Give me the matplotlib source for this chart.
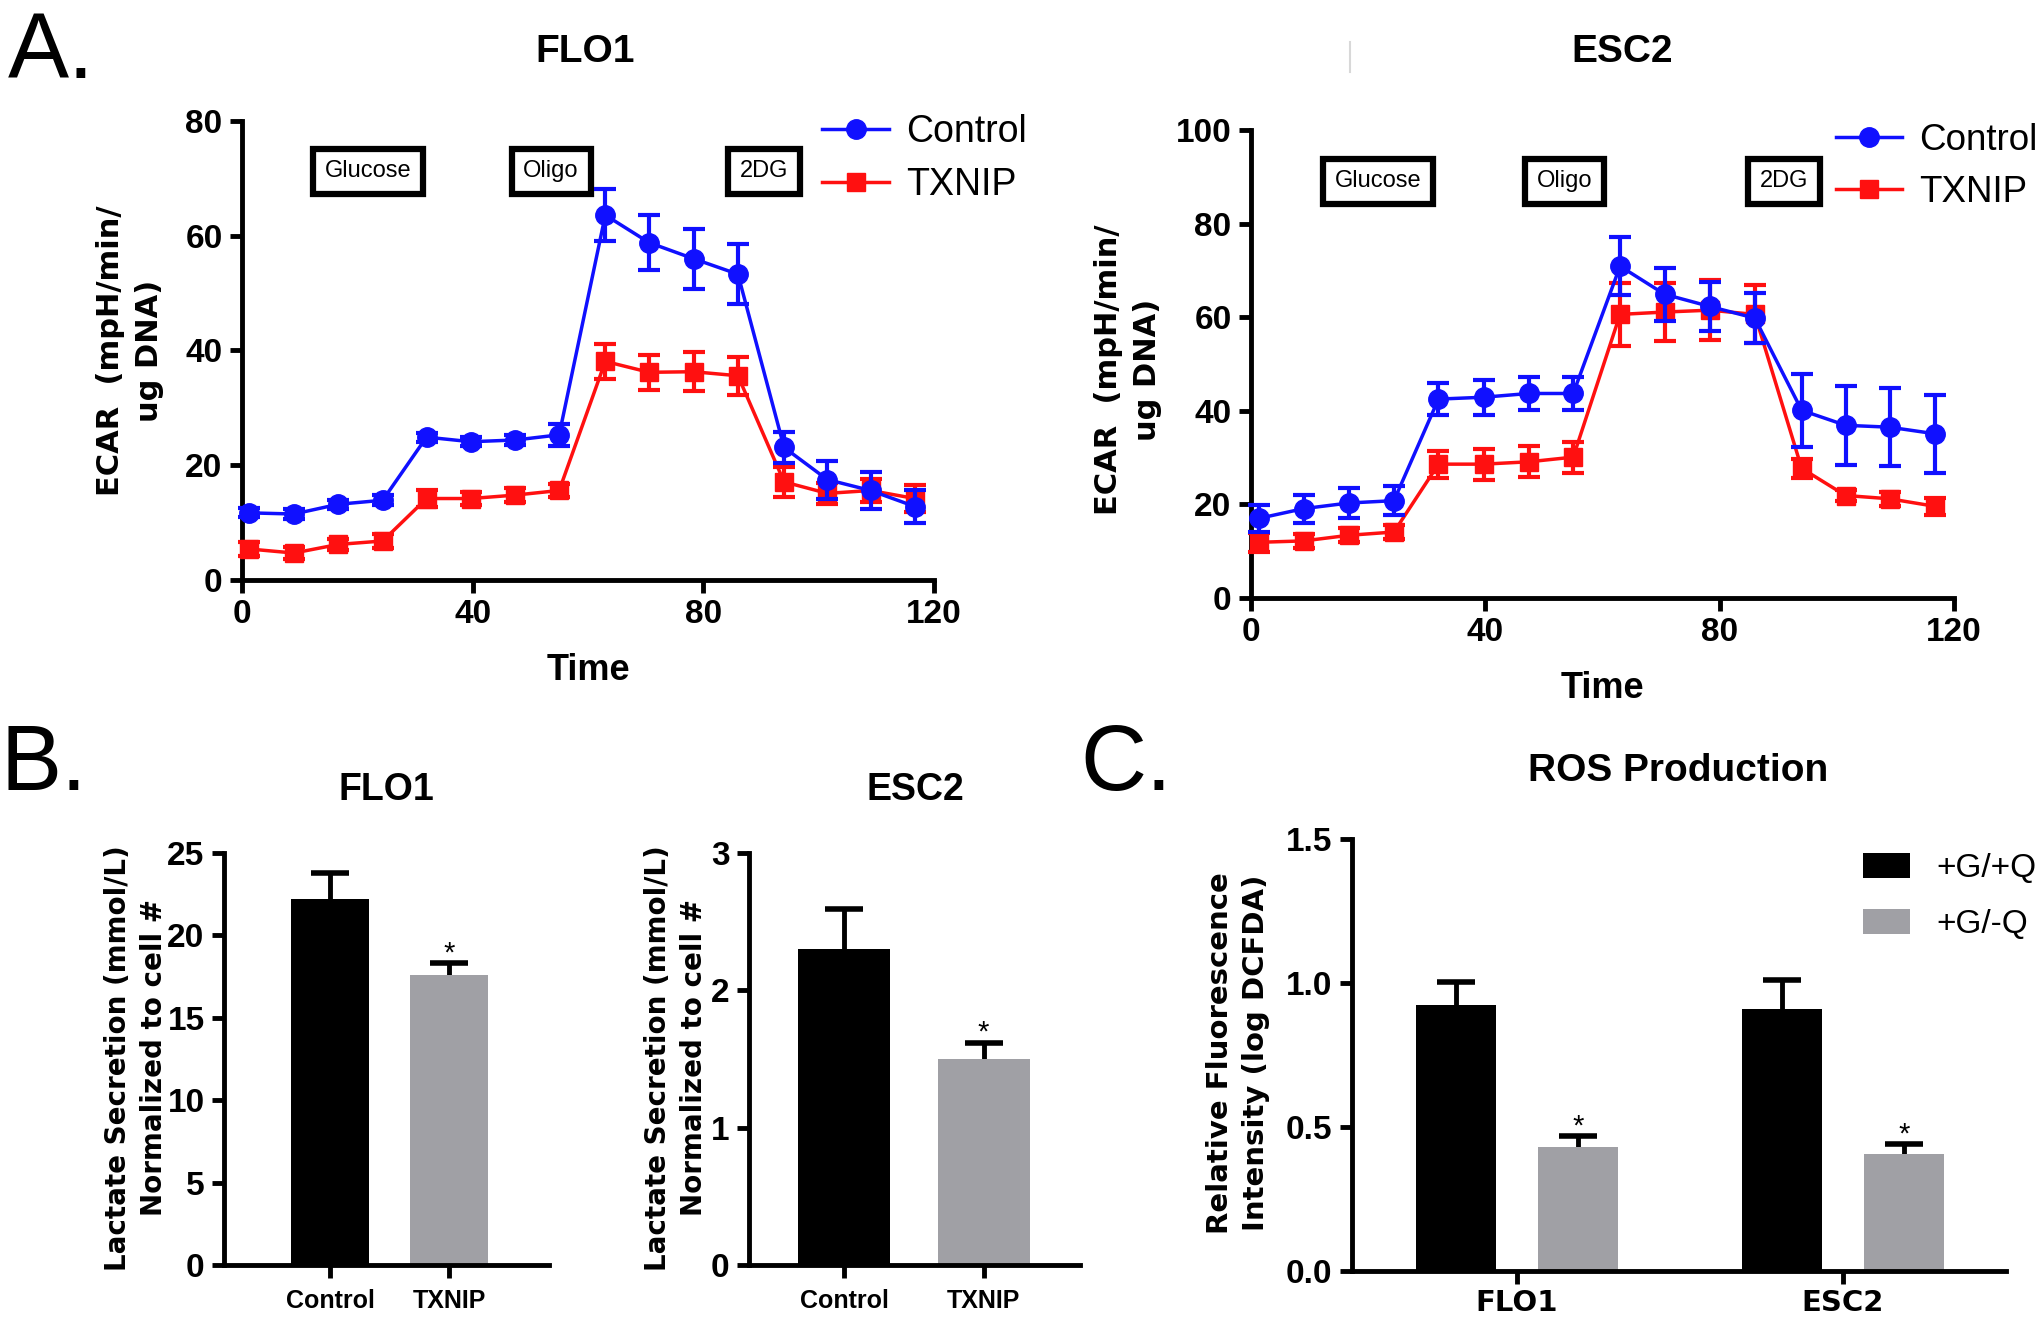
import matplotlib
matplotlib.use("Agg")
import matplotlib.pyplot as plt
from matplotlib import font_manager
from matplotlib.lines import Line2D
import numpy as np

# =========================
# Data
# =========================

time = [1.3, 9.0, 16.7, 24.4, 32.0, 39.7, 47.4, 55.0, 63.0, 70.6, 78.3, 86.0, 94.0, 101.5, 109.0, 116.7]

flo1_ctrl = [11.7, 11.5, 13.2, 13.9, 24.9, 24.1, 24.4, 25.3, 63.6, 58.8, 56.0, 53.3, 23.1, 17.5, 15.6, 12.8]
flo1_ctrl_err = [0.8, 0.8, 0.8, 0.9, 0.8, 0.8, 0.8, 1.9, 4.5, 4.8, 5.2, 5.2, 2.7, 3.3, 3.2, 2.8]
flo1_txnip = [5.4, 4.7, 6.2, 6.8, 14.2, 14.2, 14.8, 15.6, 38.1, 36.2, 36.3, 35.6, 17.1, 15.1, 15.6, 14.2]
flo1_txnip_err = [1.2, 1.0, 1.0, 1.2, 1.5, 1.2, 1.2, 1.2, 3.0, 3.0, 3.4, 3.3, 2.6, 1.8, 2.0, 2.3]

esc2_ctrl = [17.0, 19.1, 20.3, 20.8, 42.5, 42.9, 43.7, 43.7, 70.9, 64.9, 62.3, 59.8, 40.1, 36.9, 36.5, 35.1]
esc2_ctrl_err = [2.8, 3.0, 3.1, 3.1, 3.5, 3.7, 3.5, 3.5, 6.2, 5.7, 5.3, 5.4, 7.8, 8.4, 8.3, 8.3]
esc2_txnip = [11.9, 12.2, 13.4, 14.1, 28.6, 28.6, 29.1, 30.1, 60.6, 61.1, 61.5, 60.6, 27.7, 21.9, 21.2, 19.6]
esc2_txnip_err = [2.0, 1.5, 1.5, 1.5, 2.9, 3.3, 3.3, 3.3, 6.7, 6.2, 6.4, 6.2, 2.1, 1.2, 1.5, 1.8]

injections = ["Glucose", "Oligo", "2DG"]

lactate_groups = ["Control", "TXNIP"]
lactate_flo1 = [22.2, 17.6]
lactate_flo1_err = [1.6, 0.7]
lactate_esc2 = [2.30, 1.50]
lactate_esc2_err = [0.29, 0.12]

ros_lines = ["FLO1", "ESC2"]
ros_gq = [0.924, 0.910]
ros_gq_err = [0.08, 0.10]
ros_gnoq = [0.431, 0.406]
ros_gnoq_err = [0.038, 0.035]

# =========================
# Style
# =========================

names = {f.name for f in font_manager.fontManager.ttflist}
narrow = "Liberation Sans Narrow" if "Liberation Sans Narrow" in names else "Liberation Sans"
plt.rcParams["font.family"] = "Liberation Sans"

BLUE = "#1010ff"
RED = "#ff1010"
GRAY = "#a0a0a5"
W, H = 2040, 1318


def style(ax, labelsize=24):
    for s in ["top", "right"]:
        ax.spines[s].set_visible(False)
    for s in ["left", "bottom"]:
        ax.spines[s].set_linewidth(3.5)
    ax.tick_params(width=3.5, length=9, labelsize=labelsize, pad=5)
    for lab in ax.get_xticklabels() + ax.get_yticklabels():
        lab.set_fontfamily(narrow)
        lab.set_fontweight("bold")


def fig_ax(left, top, right, bottom):
    return fig.add_axes([left / W, 1 - bottom / H, (right - left) / W, (bottom - top) / H])


def star(ax, x, y):
    ax.annotate("*", (x, y), xytext=(0, -3), textcoords="offset points",
                ha="center", va="bottom", fontsize=21)


fig = plt.figure(figsize=(20.4, 13.18), dpi=100)

# =========================
# Panel A - ECAR
# =========================

panels_a = [
    (fig_ax(242, 121, 934, 580), flo1_ctrl, flo1_ctrl_err, flo1_txnip, flo1_txnip_err,
     80, [0, 20, 40, 60, 80], [21.8, 53.6, 90.6], 71.2, (822, 114), 27),
    (fig_ax(1251, 130, 1954, 598), esc2_ctrl, esc2_ctrl_err, esc2_txnip, esc2_txnip_err,
     100, [0, 20, 40, 60, 80, 100], [21.7, 53.5, 91.0], 89.0, (1836, 123), 26.5),
]

for ax, c, ce, t, te, ymax, yt, box_x, box_y, leg, legsize in panels_a:
    ax.errorbar(time, c, yerr=ce, color=BLUE, marker="o", ms=14, lw=2.5,
                elinewidth=3, capsize=8, capthick=3, clip_on=False, zorder=4)
    ax.errorbar(time, t, yerr=te, color=RED, marker="s", ms=13, lw=2.5,
                elinewidth=3, capsize=8, capthick=3, clip_on=False, zorder=3)
    ax.set_xlim(0, 120)
    ax.set_ylim(0, ymax)
    ax.set_xticks([0, 40, 80, 120])
    ax.set_yticks(yt)
    style(ax, 24)
    ax.set_xlabel("Time", fontsize=26, fontweight="bold", fontfamily=narrow, labelpad=16)
    for name, bx in zip(injections, box_x):
        ax.text(bx, box_y, name, fontsize=17, fontfamily=narrow, ha="center", va="center",
                bbox=dict(boxstyle="square,pad=0.5", fc="white", ec="black", lw=4.5))
    h1 = Line2D([], [], color=BLUE, marker="o", ms=14, lw=2.5)
    h2 = Line2D([], [], color=RED, marker="s", ms=13, lw=2.5)
    ax.legend([h1, h2], ["Control", "TXNIP"], loc="upper left", frameon=False,
              bbox_to_anchor=(leg[0] / W, 1 - leg[1] / H), bbox_transform=fig.transFigure,
              fontsize=legsize, handlelength=1.8, handletextpad=0.45, labelspacing=0.45,
              borderaxespad=0, borderpad=0)

fig.text(130 / W, 1 - 351 / H, "ECAR  (mpH/min/\nug DNA)", rotation=90, ha="center",
         va="center", fontsize=22, fontweight="bold", family="DejaVu Sans", linespacing=1.4)
fig.text(1128 / W, 1 - 370 / H, "ECAR  (mpH/min/\nug DNA)", rotation=90, ha="center",
         va="center", fontsize=22, fontweight="bold", family="DejaVu Sans", linespacing=1.4)

fig.text(585 / W, 1 - 52 / H, "FLO1", ha="center", va="center", fontsize=28, fontweight="bold")
fig.text(1622 / W, 1 - 52 / H, "ESC2", ha="center", va="center", fontsize=28, fontweight="bold")
fig.add_artist(Line2D([1350 / W, 1350 / W], [1 - 42 / H, 1 - 72 / H], color="#d8d8d8", lw=1.5))

# =========================
# Panel B - Lactate
# =========================

panels_b = [
    (fig_ax(224, 853, 549, 1265), lactate_flo1, lactate_flo1_err, 25, [0, 5, 10, 15, 20, 25],
     (-0.89, 1.84), 0.65),
    (fig_ax(749, 853, 1080, 1265), lactate_esc2, lactate_esc2_err, 3, [0, 1, 2, 3],
     (-0.68, 1.69), 0.66),
]

for ax, vals, errs, ymax, yt, xl, bw in panels_b:
    x = np.arange(len(lactate_groups))
    ax.bar(x, vals, width=bw, color=["black", GRAY], zorder=2)
    ax.errorbar(x, vals, yerr=errs, fmt="none", ecolor="black",
                elinewidth=3.5, capsize=14, capthick=4, zorder=1)
    star(ax, x[1], vals[1] + errs[1])
    ax.set_xlim(*xl)
    ax.set_ylim(0, ymax)
    ax.set_xticks(x)
    ax.set_xticklabels(lactate_groups)
    ax.set_yticks(yt)
    style(ax, 24)
    for lab in ax.get_xticklabels():
        lab.set_fontsize(18)
    ax.tick_params(axis="x", pad=8)

for xc in [136, 676]:
    fig.text(xc / W, 1 - 1058 / H, "Lactate Secretion (mmol/L)\nNormalized to cell #", rotation=90,
             ha="center", va="center", fontsize=20, fontweight="bold", family="DejaVu Sans",
             linespacing=1.4)

fig.text(386 / W, 1 - 790 / H, "FLO1", ha="center", va="center", fontsize=27, fontweight="bold",
         fontfamily=narrow)
fig.text(915 / W, 1 - 790 / H, "ESC2", ha="center", va="center", fontsize=27, fontweight="bold",
         fontfamily=narrow)

# =========================
# Panel C - ROS
# =========================

ax = fig_ax(1352, 839, 2006, 1271)
x = np.arange(len(ros_lines))
bw = 0.245
off = 0.187
ax.bar(x - off, ros_gq, width=bw, color="black", label="+G/+Q", zorder=2)
ax.bar(x + off, ros_gnoq, width=bw, color=GRAY, label="+G/-Q", zorder=2)
ax.errorbar(x - off, ros_gq, yerr=ros_gq_err, fmt="none", ecolor="black",
            elinewidth=3.5, capsize=14, capthick=4, zorder=1)
ax.errorbar(x + off, ros_gnoq, yerr=ros_gnoq_err, fmt="none", ecolor="black",
            elinewidth=3.5, capsize=14, capthick=4, zorder=1)
for xi, v, e in zip(x + off, ros_gnoq, ros_gnoq_err):
    star(ax, xi, v + e)
ax.set_xlim(-0.506, 1.5)
ax.set_ylim(0, 1.5)
ax.set_xticks(x)
ax.set_xticklabels(ros_lines)
ax.set_yticks([0, 0.5, 1.0, 1.5])
ax.set_yticklabels(["0.0", "0.5", "1.0", "1.5"])
style(ax, 24)
for lab in ax.get_xticklabels():
    lab.set_fontsize(21)
    lab.set_fontfamily("DejaVu Sans")
ax.tick_params(axis="x", pad=4)
ax.legend(loc="upper left", bbox_to_anchor=(1863 / W, 1 - 853 / H), bbox_transform=fig.transFigure,
          frameon=False, fontsize=24, handlelength=1.4, handleheight=0.75, handletextpad=0.8,
          labelspacing=0.75, borderaxespad=0, borderpad=0)

fig.text(1238 / W, 1 - 1053 / H, "Relative Fluorescence\nIntensity (log DCFDA)", rotation=90,
         ha="center", va="center", fontsize=21, fontweight="bold", family="DejaVu Sans",
         linespacing=1.4)
fig.text(1678 / W, 1 - 771 / H, "ROS Production", ha="center", va="center", fontsize=28,
         fontweight="bold", fontfamily=narrow)

# Panel letters
fig.text(8 / W, 1 - 78 / H, "A.", fontsize=66, va="baseline")
fig.text(0 / W, 1 - 790 / H, "B.", fontsize=66, va="baseline")
fig.text(1080 / W, 1 - 790 / H, "C.", fontsize=66, va="baseline")

fig.savefig("out.png", dpi=100)
